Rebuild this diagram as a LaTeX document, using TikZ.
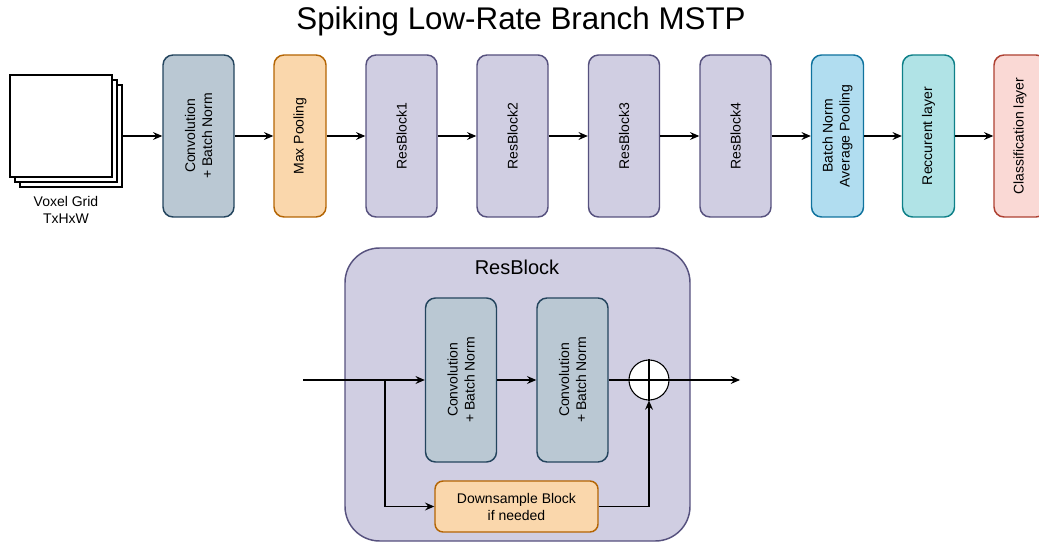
\documentclass[tikz,border=0pt]{standalone}
\usepackage{fontspec}
\setmainfont{Liberation Sans}
\usetikzlibrary{arrows.meta}
\definecolor{convfill}{HTML}{BAC8D3}\definecolor{convline}{HTML}{23445D}
\definecolor{poolfill}{HTML}{FAD7AC}\definecolor{poolline}{HTML}{B46504}
\definecolor{resfill}{HTML}{D0CEE2}\definecolor{resline}{HTML}{56517E}
\definecolor{bnfill}{HTML}{B1DDF0}\definecolor{bnline}{HTML}{10739E}
\definecolor{recfill}{HTML}{B0E3E6}\definecolor{recline}{HTML}{0E8088}
\definecolor{clsfill}{HTML}{FAD9D5}\definecolor{clsline}{HTML}{AE4132}
\tikzset{
  layer/.style={rotate=90, rounded corners=7.5pt, line width=1.1pt, align=center,
    minimum width=121.5pt, font=\fontsize{10.5}{12.75}\selectfont, inner sep=1pt},
  wide/.style={minimum height=53.25pt},
  thin/.style={minimum height=39pt},
  sheet/.style={draw, fill=white, line width=1.2pt, minimum size=76.5pt, inner sep=0pt},
  flow/.style={-{Stealth[length=7pt,width=6pt,inset=2.5pt]}, line width=0.8pt},
}
\begin{document}
\begin{tikzpicture}[x=0.75pt,y=-0.75pt]
  \useasboundingbox (0,0) rectangle (1039,545);
  \node at (521,21) {\fontsize{23.5}{27}\selectfont Spiking Low-Rate Branch MSTP};

  \node[sheet] (voxel) at (71,136) {};
  \node[sheet] at (66,131) {};
  \node[sheet] at (61,126) {};
  \node[align=center, font=\fontsize{10.5}{12.75}\selectfont] (voxlab) at (66,210) {Voxel Grid\\TxHxW};

  \node[layer, wide, fill=convfill, draw=convline] (conv) at (198.5,136) {Convolution\\+ Batch Norm};
  \node[layer, thin, fill=poolfill, draw=poolline] (pool) at (300,136) {Max Pooling};
  \node[layer, wide, fill=resfill, draw=resline] (rb1) at (401.5,136) {ResBlock1};
  \node[layer, wide, fill=resfill, draw=resline] (rb2) at (512.5,136) {ResBlock2};
  \node[layer, wide, fill=resfill, draw=resline] (rb3) at (624,136) {ResBlock3};
  \node[layer, wide, fill=resfill, draw=resline] (rb4) at (735.5,136) {ResBlock4};
  \node[layer, thin, fill=bnfill, draw=bnline] (bn) at (837.5,136) {Batch Norm\\Average Pooling};
  \node[layer, thin, fill=recfill, draw=recline] (rec) at (928.5,136) {Reccurent layer};
  \node[layer, thin, fill=clsfill, draw=clsline] (cls) at (1020,136) {Classification layer};

  \draw[flow] (voxel) -- (conv);
  \draw[flow] (conv) -- (pool);
  \draw[flow] (pool) -- (rb1);
  \draw[flow] (rb1) -- (rb2);
  \draw[flow] (rb2) -- (rb3);
  \draw[flow] (rb3) -- (rb4);
  \draw[flow] (rb4) -- (bn);
  \draw[flow] (bn) -- (rec);
  \draw[flow] (rec) -- (cls);

  \node[fill=resfill, draw=resline, line width=1.1pt, rounded corners=26pt,
    minimum width=258.75pt, minimum height=219.75pt] (block) at (517.5,394.5) {};
  \node[font=\fontsize{15}{18}\selectfont] (blocklab) at (517,267) {ResBlock};
  \node[layer, wide, minimum width=123pt, fill=convfill, draw=convline] (c1) at (461,380) {Convolution\\+ Batch Norm};
  \node[layer, wide, minimum width=123pt, fill=convfill, draw=convline] (c2) at (572.5,380) {Convolution\\+ Batch Norm};
  \node[circle, draw, fill=white, line width=0.8pt, minimum size=30pt, inner sep=0pt] (sum) at (649,380) {};
  \draw[line width=0.8pt] (sum.north) -- (sum.south) (sum.west) -- (sum.east);
  \node[fill=poolfill, draw=poolline, line width=1.1pt, rounded corners=6pt, align=center,
    minimum width=122.25pt, minimum height=38.25pt, font=\fontsize{10.5}{12.75}\selectfont] (ds) at (516.5,506.5) {Downsample Block\\if needed};
  \coordinate (in) at (303,380);
  \coordinate (split) at (385,380);
  \coordinate (out) at (740,380);

  \draw[flow] (in) -- (c1);
  \draw[flow] (split) |- (ds.west);
  \draw[flow] (c1) -- (c2);
  \draw[line width=0.8pt] (c2) -- (sum);
  \draw[flow] (sum) -- (out);
  \draw[flow] (ds.east) -| (sum.south);
\end{tikzpicture}
\end{document}
